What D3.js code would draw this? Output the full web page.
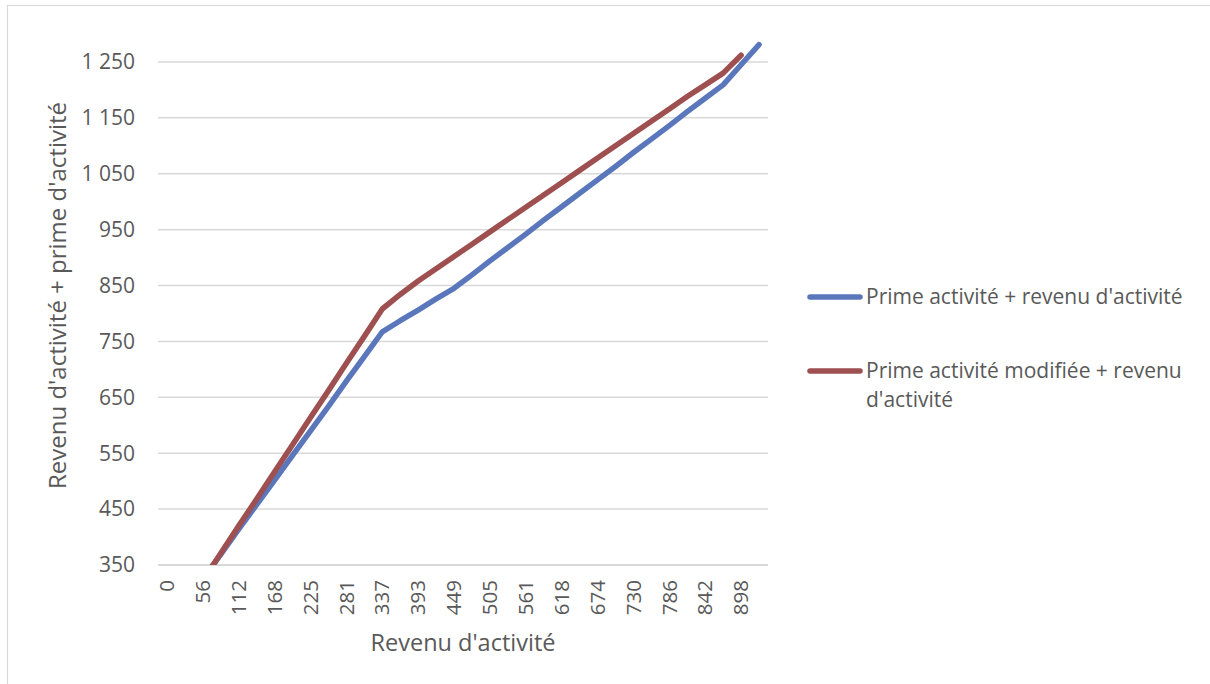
<!doctype html>
<html>
<head>
    <script src="https://d3js.org/d3.v7.min.js"></script>
    <style>
        body { margin: 0; background: #fff; }
        text { font-family: "Open Sans", sans-serif; fill: #595959; }
        .grid line { stroke: #d9d9d9; stroke-width: 1.5; }
        .serie { fill: none; stroke-width: 5.5; stroke-linecap: round; stroke-linejoin: round; }
    </style>
</head>
<body>

    <svg width="1210" height="684"></svg>

    <script>

        // revenu d'activité (une catégorie sur deux est étiquetée)
        var categories = [0, 28, 56, 84, 112, 140, 168, 196, 225, 253, 281, 309, 337, 365, 393, 421, 449,
            477, 505, 533, 561, 590, 618, 646, 674, 702, 730, 758, 786, 814, 842, 870, 898, 926];

        var primeActivite = [237, 281, 325, 369, 414, 458, 502, 546, 590, 634, 679, 723, 767, 787, 806, 826, 845,
            869, 894, 918, 942, 967, 991, 1015, 1039, 1063, 1088, 1112, 1136, 1161, 1185, 1209, 1245, 1281];

        var primeModifiee = [225, 274, 322, 371, 420, 468, 517, 565, 614, 662, 711, 759, 808, 834, 858, 880, 902,
            924, 946, 968, 990, 1012, 1034, 1056, 1078, 1100, 1122, 1144, 1166, 1188, 1209, 1230, 1262, null];

        var yTicks = [350, 450, 550, 650, 750, 850, 950, 1050, 1150, 1250];

        var series = [
            {name: "Prime activité + revenu d'activité", values: primeActivite, color: "#5b77bc"},
            {name: "Prime activité modifiée + revenu d'activité", values: primeModifiee, color: "#9e4f4f"}
        ];

        var svg = d3.select("svg");
        var plotL = 158, plotR = 768, plotT = 34, plotB = 565;

        // cadre du graphique
        svg.append("rect")
            .attr("x", 7.5).attr("y", 5.5)
            .attr("width", 1220).attr("height", 700)
            .attr("fill", "none").attr("stroke", "#d9d9d9").attr("stroke-width", 1.2);

        var x = d3.scaleBand().domain(categories).range([plotL, plotR]).padding(0);
        var y = d3.scaleLinear().domain([350, 1300]).range([plotB, plotT]);
        var cx = function(c) { return x(c) + x.bandwidth() / 2; };

        var fr = d3.formatLocale({decimal: ",", thousands: " ", grouping: [3], currency: ["", " €"]});
        var fmt = fr.format(",d");

        // quadrillage
        svg.append("g").attr("class", "grid")
            .selectAll("line").data(yTicks).enter().append("line")
            .attr("x1", plotL).attr("x2", plotR)
            .attr("y1", function(d) { return y(d); })
            .attr("y2", function(d) { return y(d); })
            .style("stroke-width", function(d) { return d === 350 ? 2 : 1.5; });

        // étiquettes de l'axe vertical
        svg.append("g").selectAll("text").data(yTicks).enter().append("text")
            .attr("x", 135)
            .attr("y", function(d) { return y(d); })
            .attr("dy", "0.35em")
            .attr("text-anchor", "end")
            .attr("font-size", "21px")
            .text(function(d) { return fmt(d); });

        // étiquettes de l'axe horizontal
        svg.append("g").selectAll("text")
            .data(categories.filter(function(d, i) { return i % 2 === 0; }))
            .enter().append("text")
            .attr("transform", function(d) { return "translate(" + cx(d) + ",580) rotate(-90)"; })
            .attr("dy", "0.35em")
            .attr("text-anchor", "end")
            .attr("font-size", "20.5px")
            .text(function(d) { return d; });

        // titres des axes
        svg.append("text")
            .attr("x", (plotL + plotR) / 2).attr("y", 651)
            .attr("text-anchor", "middle")
            .attr("font-size", "23.5px")
            .text("Revenu d'activité");

        svg.append("text")
            .attr("transform", "translate(58," + ((plotT + plotB) / 2 - 4) + ") rotate(-90)")
            .attr("dy", "0.35em")
            .attr("text-anchor", "middle")
            .attr("font-size", "24px")
            .text("Revenu d'activité + prime d'activité");

        // courbes
        svg.append("clipPath").attr("id", "zone")
            .append("rect").attr("x", plotL).attr("y", plotT)
            .attr("width", plotR - plotL).attr("height", plotB - plotT);

        var line = d3.line()
            .defined(function(d) { return d.v !== null; })
            .x(function(d) { return cx(d.c); })
            .y(function(d) { return y(d.v); });

        svg.append("g").attr("clip-path", "url(#zone)")
            .selectAll("path").data(series).enter().append("path")
            .attr("class", "serie")
            .attr("stroke", function(d) { return d.color; })
            .attr("d", function(s) {
                return line(categories.map(function(c, i) { return {c: c, v: s.values[i]}; }));
            });

        // légende
        var legend = svg.append("g");
        var ly = [297, 371];
        legend.selectAll("line").data(series).enter().append("line")
            .attr("x1", 810).attr("x2", 860)
            .attr("y1", function(d, i) { return ly[i]; })
            .attr("y2", function(d, i) { return ly[i]; })
            .attr("stroke", function(d) { return d.color; })
            .attr("stroke-width", 5.5)
            .attr("stroke-linecap", "round");

        legend.append("text")
            .attr("x", 866).attr("y", ly[0]).attr("dy", "0.35em")
            .attr("font-size", "21px")
            .text(series[0].name);

        var t2 = legend.append("text")
            .attr("x", 866).attr("y", ly[1]).attr("dy", "0.35em")
            .attr("font-size", "21px");
        t2.append("tspan").attr("x", 866).text("Prime activité modifiée + revenu");
        t2.append("tspan").attr("x", 866).attr("dy", "29px").text("d'activité");

    </script>
</body>
</html>
